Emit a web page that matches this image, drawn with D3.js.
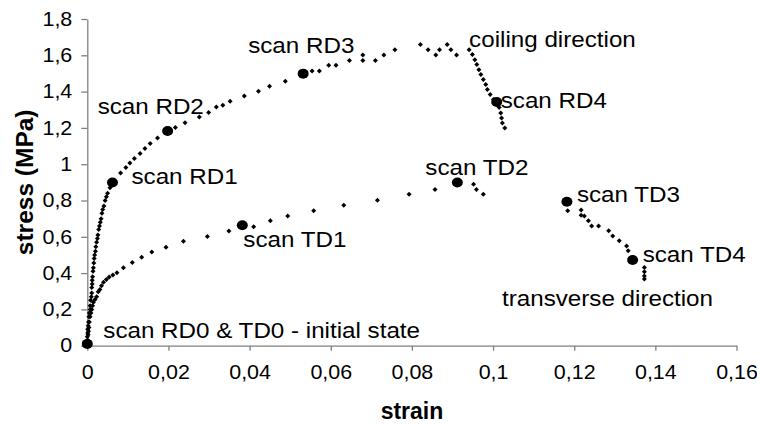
<!DOCTYPE html>
<html>
<head>
<meta charset="utf-8">
<script src="https://cdn.jsdelivr.net/npm/d3@7"></script>
<style>
  body { margin: 0; background: #fff; }
  svg { display: block; font-family: "Liberation Sans", Arial, sans-serif; }
</style>
</head>
<body>
<svg id="chart"></svg>
<script>
// rolling direction (RD) measurement points
const rdStrain = [0, 0.0000, 0.0000, 0.0001, 0.0001, 0.0002, 0.0003, 0.0004, 0.0005, 0.0007, 0.0007, 0.0008, 0.0010,
  0.0011, 0.0011, 0.0012, 0.0012, 0.0013, 0.0014, 0.0015, 0.0016, 0.0017, 0.0018, 0.0020, 0.0021, 0.0023, 0.0025,
  0.0026, 0.0028, 0.0030, 0.0032, 0.0034, 0.0036, 0.0038, 0.0041, 0.0044, 0.0047, 0.0050, 0.0056, 0.0062,
  0.0082, 0.0095, 0.0105, 0.0116, 0.0130, 0.0142, 0.0155, 0.0173, 0.0198, 0.0217, 0.0241, 0.0276, 0.0299,
  0.0318, 0.0334, 0.0352, 0.0387, 0.0422, 0.0449, 0.0488, 0.0532, 0.0554, 0.0572, 0.0595, 0.0613, 0.0646,
  0.0679, 0.0679, 0.0710, 0.0731, 0.0758, 0.0821, 0.0840, 0.0859, 0.0868, 0.0887, 0.0896, 0.0910, 0.0941,
  0.0949, 0.0955, 0.0960, 0.0965, 0.0970, 0.0976, 0.0982, 0.0986, 0.0993, 0.1001, 0.1009, 0.1015, 0.1019,
  0.1021, 0.1023, 0.1029];
const rdStress = [0.01, 0.03, 0.05, 0.07, 0.09, 0.11, 0.13, 0.16, 0.18, 0.20, 0.22, 0.25, 0.27,
  0.29, 0.32, 0.34, 0.36, 0.38, 0.41, 0.43, 0.455, 0.48, 0.50, 0.52, 0.545, 0.57, 0.59,
  0.61, 0.64, 0.66, 0.68, 0.70, 0.73, 0.75, 0.77, 0.80, 0.82, 0.84, 0.87, 0.90,
  0.952, 0.982, 1.007, 1.031, 1.059, 1.086, 1.114, 1.145, 1.183, 1.202, 1.229, 1.260, 1.285,
  1.315, 1.325, 1.347, 1.376, 1.402, 1.429, 1.457, 1.499, 1.513, 1.513, 1.545, 1.545, 1.572,
  1.602, 1.572, 1.572, 1.602, 1.631, 1.659, 1.631, 1.602, 1.631, 1.659, 1.631, 1.602, 1.631,
  1.604, 1.576, 1.549, 1.521, 1.494, 1.466, 1.439, 1.411, 1.384, 1.356, 1.343, 1.312, 1.282,
  1.255, 1.227, 1.200];

// transverse direction (TD) measurement points
const tdStrain = [0.0001, 0.0002, 0.0003, 0.0004, 0.0005, 0.0007, 0.0009, 0.0011, 0.0013, 0.0015, 0.0019, 0.0023,
  0.0027, 0.0031, 0.0035, 0.0040, 0.0047, 0.0054, 0.0063, 0.0073, 0.0089, 0.0111, 0.0134, 0.0159, 0.0194,
  0.0237, 0.0296, 0.0349, 0.0382, 0.0410, 0.0451, 0.0494, 0.0558, 0.0632, 0.0715, 0.0793, 0.0857, 0.0912,
  0.0952, 0.0959, 0.0976,
  0.1182, 0.1184, 0.1217, 0.1217, 0.1225, 0.1235, 0.1243, 0.1260, 0.1285, 0.1295, 0.1311, 0.1329, 0.1333,
  0.1344, 0.1373, 0.1373, 0.1373, 0.1373];
const tdStress = [0.03, 0.06, 0.08, 0.10, 0.13, 0.16, 0.18, 0.20, 0.22, 0.24, 0.255, 0.27,
  0.297, 0.31, 0.33, 0.35, 0.365, 0.378, 0.39, 0.402, 0.429, 0.459, 0.487, 0.516, 0.543,
  0.576, 0.602, 0.632, 0.664, 0.656, 0.688, 0.715, 0.743, 0.774, 0.802, 0.834, 0.861, 0.899,
  0.890, 0.861, 0.834,
  0.793, 0.743, 0.747, 0.719, 0.714, 0.688, 0.659, 0.659, 0.633, 0.605, 0.578, 0.549, 0.523,
  0.472, 0.431, 0.407, 0.384, 0.367];

// scan points (large dots)
const scanNames = ["scan RD0 & TD0 - initial state", "scan RD1", "scan RD2", "scan RD3", "scan RD4",
  "scan TD1", "scan TD2", "scan TD3", "scan TD4"];
const scanStrain = [0, 0.0062, 0.0198, 0.0532, 0.1009, 0.0382, 0.0912, 0.1182, 0.1344];
const scanStress = [0.01, 0.899, 1.183, 1.499, 1.343, 0.664, 0.899, 0.793, 0.472];

const xTicks = [0, 0.02, 0.04, 0.06, 0.08, 0.1, 0.12, 0.14, 0.16];
const yTicks = [0, 0.2, 0.4, 0.6, 0.8, 1, 1.2, 1.4, 1.6, 1.8];

const width = 757, height = 425;
const stretch = 1.1; // the text in the picture is a little wide
const svg = d3.select("#chart").attr("width", width).attr("height", height);
svg.append("rect").attr("width", width).attr("height", height).attr("fill", "#fff");

const x = d3.scaleLinear().domain([0, 0.16]).range([87.3, 736.5]);
const y = d3.scaleLinear().domain([0, 1.8]).range([345.7, 19]);

const fmt = d3.formatLocale({ decimal: ",", thousands: ".", grouping: [3], currency: ["", ""] }).format("~g");
const axisColor = "#808080";

// axes
const xAxis = svg.append("g")
  .attr("transform", `translate(0, ${y(0)})`)
  .call(d3.axisBottom(x).tickValues(xTicks).tickFormat(fmt).tickSizeInner(5).tickSizeOuter(0).tickPadding(14));
const yAxis = svg.append("g")
  .attr("transform", `translate(${x(0)}, 0)`)
  .call(d3.axisLeft(y).tickValues(yTicks).tickFormat(fmt).tickSizeInner(6).tickSizeOuter(0).tickPadding(9));

[xAxis, yAxis].forEach(a => {
  a.select(".domain").attr("stroke", axisColor).attr("stroke-width", 1.3);
  a.selectAll(".tick line").attr("stroke", axisColor).attr("stroke-width", 1.3);
  a.selectAll(".tick text")
    .attr("fill", "#000")
    .style("font-size", "19.5px")
    .style("font-family", "'Liberation Sans', Arial, sans-serif")
    .each(function() {
      const t = d3.select(this);
      const tx = +t.attr("x") || 0, ty = +t.attr("y") || 0;
      t.attr("x", 0).attr("y", 0).attr("transform", `translate(${tx}, ${ty}) scale(${stretch}, 1)`);
    });
});

// axis titles
svg.append("text")
  .attr("x", 412).attr("y", 419)
  .attr("text-anchor", "middle")
  .style("font-size", "23px").style("font-weight", "bold")
  .text("strain");
svg.append("text")
  .attr("transform", `translate(33, ${y(0.9)}) rotate(-90)`)
  .attr("text-anchor", "middle")
  .style("font-size", "24.5px").style("font-weight", "bold")
  .text("stress (MPa)");

// small diamond markers
const diamond = "M0,-2.5L2.5,0L0,2.5L-2.5,0Z";
const rd = rdStrain.map((d, i) => ({ strain: d, stress: rdStress[i] }));
const td = tdStrain.map((d, i) => ({ strain: d, stress: tdStress[i] }));

svg.append("g").selectAll("path")
  .data(rd.concat(td))
  .enter()
  .append("path")
  .attr("d", diamond)
  .attr("transform", d => `translate(${x(d.strain)}, ${y(d.stress)})`)
  .attr("fill", "#000");

// scan points
const scans = scanNames.map((n, i) => ({ name: n, strain: scanStrain[i], stress: scanStress[i] }));
svg.append("g").selectAll("ellipse")
  .data(scans)
  .enter()
  .append("ellipse")
  .attr("cx", d => x(d.strain))
  .attr("cy", d => y(d.stress))
  .attr("rx", 5.5)
  .attr("ry", 5)
  .attr("fill", "#000");

// label offsets from each scan point
const labelOffset = [[16, -6], [19, 1], [-70, -17], [-55, -21], [4, 6], [1, 22], [-32, -8], [10, 0], [10, 2]];
svg.append("g").selectAll("text")
  .data(scans)
  .enter()
  .append("text")
  .attr("transform", (d, i) =>
    `translate(${x(d.strain) + labelOffset[i][0]}, ${y(d.stress) + labelOffset[i][1]}) scale(${stretch}, 1)`)
  .style("font-size", "22px")
  .text(d => d.name);

// direction notes
svg.append("text")
  .attr("transform", `translate(${x(0.0941)}, ${y(1.647)}) scale(${stretch}, 1)`)
  .style("font-size", "22px")
  .text("coiling direction");
svg.append("text")
  .attr("transform", `translate(${x(0.1022)}, ${y(0.22)}) scale(${stretch}, 1)`)
  .style("font-size", "22px")
  .text("transverse direction");
</script>
</body>
</html>
